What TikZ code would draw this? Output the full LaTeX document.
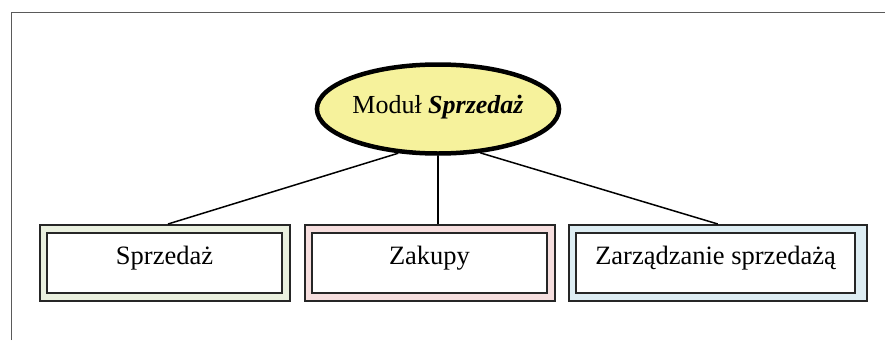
\documentclass[tikz,border=0pt]{standalone}
\usepackage{fontspec}
\setmainfont{Liberation Serif}
\usetikzlibrary{shapes.geometric}
\definecolor{ellfill}{HTML}{F6F29C}
\definecolor{greenfill}{HTML}{EAF0DF}
\definecolor{pinkfill}{HTML}{F6DEDE}
\definecolor{bluefill}{HTML}{DDEDF3}
\definecolor{framegray}{HTML}{5A5A5A}
\tikzset{
  outerbox/.style={draw=black!85, line width=2pt, rectangle, inner sep=0pt, minimum height=76pt},
  innerbox/.style={draw=black!85, line width=2pt, rectangle, fill=white, inner sep=0pt, minimum height=60pt,
    text height=8pt, text depth=5.4pt, font=\fontsize{26.5}{30}\selectfont},
  conn/.style={line width=1.5pt, black},
}
\begin{document}
\begin{tikzpicture}[x=1pt,y=-1pt]
\useasboundingbox (0,0) rectangle (885,340);
\draw[framegray, line width=1pt] (11.5,340) -- (11.5,12) -- (885,12);
\node[ellipse, draw=black, line width=4.5pt, fill=ellfill, minimum width=235pt, minimum height=89pt, inner sep=0pt,
  text height=12pt, text depth=3.4pt,
  font=\fontsize{26}{30}\selectfont] (m) at (438,109) {Moduł \textbf{\textit{Sprzedaż}}};
\node[outerbox, fill=greenfill, minimum width=250pt] (b1) at (165,263) {};
\node[innerbox, minimum width=235pt] (t1) at (164.5,263) {Sprzedaż};
\node[outerbox, fill=pinkfill, minimum width=249.5pt] (b2) at (429.75,263) {};
\node[innerbox, minimum width=235pt] (t2) at (429.5,263) {Zakupy};
\node[outerbox, fill=bluefill, minimum width=298.5pt] (b3) at (717.75,263) {};
\node[innerbox, minimum width=279pt] (t3) at (715.5,263) {Zarządzanie sprzedażą};
\draw[conn] (m.228) -- ([xshift=3pt]b1.north);
\draw[conn] (m.south) -- (m.south |- b2.north);
\draw[conn] (m.314) -- (b3.north);
\end{tikzpicture}
\end{document}
